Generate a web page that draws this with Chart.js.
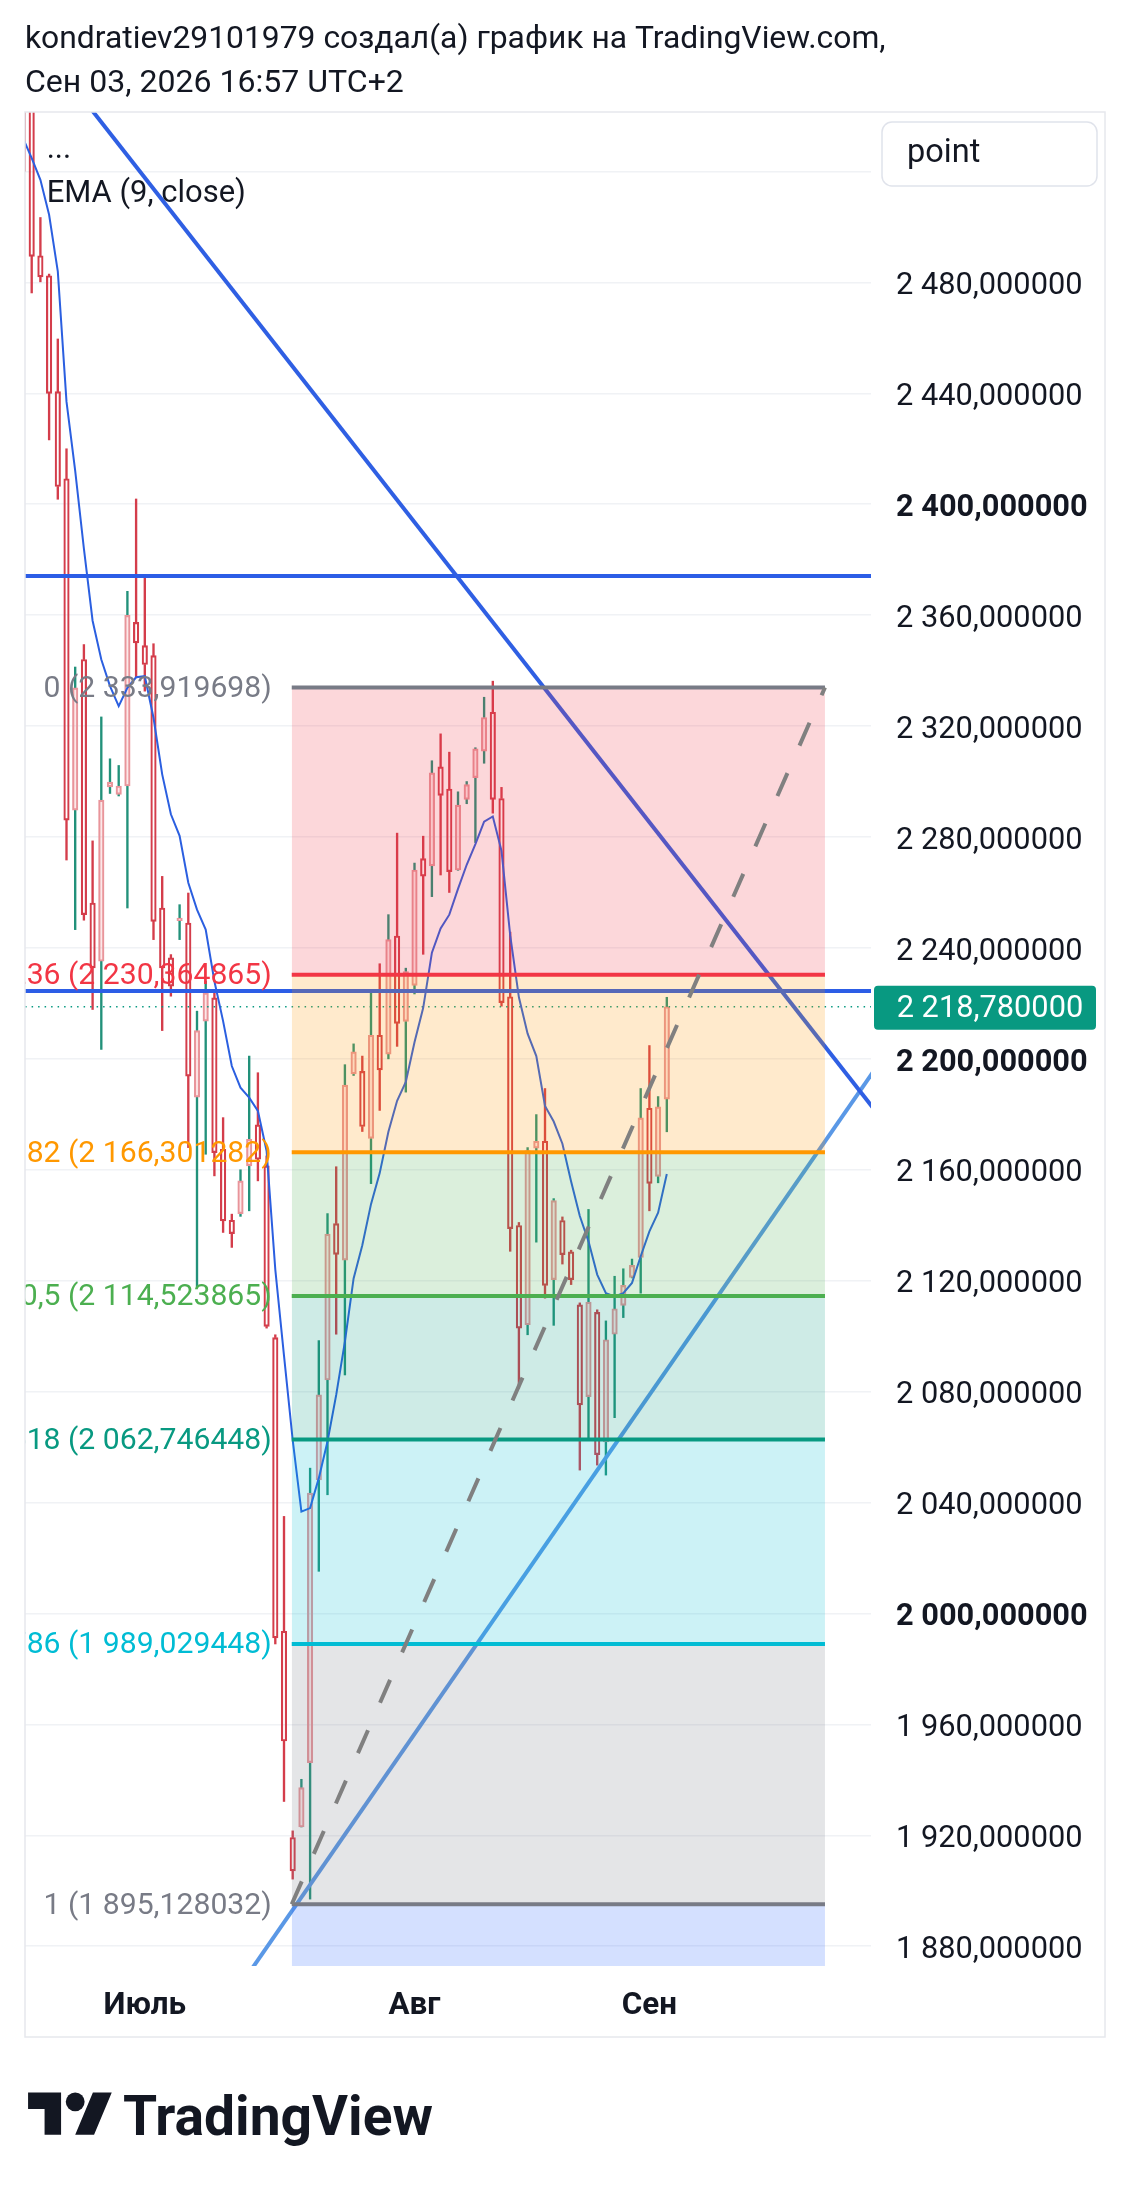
<!DOCTYPE html>
<html lang="ru">
<head>
<meta charset="utf-8">
<title>TradingView snapshot</title>
<script src="https://cdn.jsdelivr.net/npm/chart.js@4.4.1/dist/chart.umd.min.js"></script>
<style>
    html, body { margin: 0; padding: 0; background: #ffffff; }
    body { position: relative; width: 1131px; height: 2192px; overflow: hidden; color: #131722;
           font-family: Roboto, "Noto Sans", sans-serif; }
    #tvChart { position: absolute; left: 0; top: 0; }
    .caption { position: absolute; left: 25px; line-height: 1; white-space: nowrap; }
    #tvLogo { position: absolute; left: 28px; top: 2083px; }
    #tvWord { position: absolute; left: 123px; line-height: 1; white-space: nowrap; font-weight: 700; }
</style>
</head>
<body>
<canvas id="tvChart" width="1131" height="2192"></canvas>
<div id="title1" class="caption">kondratiev29101979 создал(а) график на TradingView.com,</div>
<div id="title2" class="caption">Сен 03, 2026 16:57 UTC+2</div>
<svg id="tvLogo" width="85" height="66" viewBox="0 0 36 28">
    <path fill="#131722" d="M14 22H7V11H0V4h14v18zM28 22h-8l7.5-18h8L28 22z"/>
    <circle fill="#131722" cx="20" cy="8" r="4"/>
</svg>
<div id="tvWord">TradingView</div>

<script>
// Daily candles (bar 0 is cut by the left edge)
const openPrices = [2560, 2545, 2489.6, 2482.4, 2440.6, 2409.2, 2289.7, 2344, 2256.2, 2235.2,
    2298.1, 2295.4, 2298.4, 2357.4, 2349, 2345.4, 2254.4, 2236.4, 2249.8, 2249,
    2186.2, 2213.6, 2222, 2167.4, 2141.8, 2144.2, 2161.4, 2176.2, 2161.4, 2099.5,
    1993.6, 1919.2, 1923, 1946.2, 2048.2, 2084.2, 2140.6, 2127.4, 2194.6, 2195.5,
    2171.3, 2208.5, 2201.7, 2244.3, 2213.5, 2226.5, 2272.2, 2269.6, 2305.3, 2297.3,
    2268.1, 2293.6, 2301.4, 2311, 2325, 2293.9, 2222.4, 2139.9, 2104.1, 2167.8,
    2170.3, 2120.4, 2141.7, 2130.4, 2111.3, 2078.2, 2108.6, 2061.9, 2100.7, 2111.1,
    2121.2, 2128.4, 2182.2, 2157.6, 2185.5];
const highPrices = [2570, 2552, 2503.4, 2483, 2459.6, 2420, 2341.3, 2349.4, 2278.6, 2323.3,
    2308.2, 2305.8, 2368.6, 2401.9, 2374.6, 2349.7, 2265.8, 2237.6, 2255.6, 2259.8,
    2217.2, 2228, 2224, 2178.8, 2144, 2160, 2201, 2195, 2165, 2100.5,
    2035, 1921.6, 1940.2, 2052.4, 2098.4, 2144.2, 2161.1, 2197.9, 2205.4, 2201,
    2224, 2234.3, 2252, 2281.4, 2232.7, 2270.6, 2280.3, 2307.5, 2317.2, 2310.6,
    2296.3, 2300, 2312.2, 2330.4, 2336.2, 2297.9, 2245.7, 2141, 2168, 2179.9,
    2189.3, 2149.6, 2143, 2131, 2112, 2145.7, 2109.5, 2105.5, 2121.6, 2124.3,
    2127.8, 2189.3, 2204.8, 2186.4, 2222.2];
const lowPrices = [2515, 2476.2, 2480.2, 2423.2, 2401.8, 2271.7, 2246.6, 2250, 2217.8, 2203.4,
    2295.7, 2294.8, 2254.4, 2337.4, 2332.6, 2243, 2210.2, 2222.6, 2243, 2168,
    2117.8, 2165.6, 2157.8, 2137.4, 2132, 2143.2, 2145.2, 2156, 2102.9, 1989,
    1932.2, 1904.2, 1923, 1897, 2015.2, 2042.8, 2100.7, 2086, 2194, 2173.8,
    2155, 2181.4, 2200, 2204.5, 2188, 2223.4, 2237.7, 2258.5, 2266.3, 2260,
    2268, 2292, 2278, 2306.6, 2288.6, 2219, 2130.6, 2081.2, 2100.5, 2133.9,
    2113.7, 2103.9, 2126, 2118.6, 2051.7, 2063.1, 2053.5, 2049.9, 2070.6, 2106.7,
    2121, 2115.5, 2145.2, 2155.3, 2173.7];
const closePrices = [2520, 2489.4, 2482, 2440, 2406.4, 2286.1, 2333.8, 2252, 2232.8, 2293.3,
    2299.8, 2298.4, 2359.9, 2350, 2342.2, 2249.6, 2232.8, 2226.2, 2250.8, 2193.8,
    2210.2, 2223.8, 2166.2, 2141.6, 2137, 2156, 2171, 2163.8, 2103.5, 1991.2,
    1954, 1907.2, 1937.2, 2043.4, 2078.8, 2136.8, 2129.5, 2190.5, 2202.5, 2175.6,
    2208.5, 2196, 2243, 2212.8, 2231.5, 2268.1, 2265.9, 2303.1, 2295, 2267.5,
    2291.5, 2298.9, 2311.8, 2323.1, 2293.6, 2220.3, 2138.8, 2102.9, 2166.9, 2170.3,
    2118.3, 2148.9, 2129.4, 2120.4, 2075.2, 2112.3, 2057.3, 2098.7, 2109.9, 2118.3,
    2125.5, 2178.7, 2155.1, 2182.7, 2218.78];
// EMA (9, close) as it is drawn on the snapshot
const emaValues = [2532, 2524.8, 2517, 2504.4, 2484, 2437, 2412, 2384, 2358, 2344,
    2334.4, 2327.2, 2333.8, 2337.6, 2338, 2323, 2302.6, 2288.2, 2280.4, 2263.5,
    2253.8, 2246.6, 2228, 2213.6, 2197.4, 2189.6, 2186, 2181.2, 2166.8, 2124,
    2093, 2062.5, 2036.7, 2038, 2048.8, 2062, 2078.8, 2098, 2120.8, 2132.8,
    2147.6, 2158.8, 2173.7, 2184.9, 2191.7, 2206, 2218.4, 2238.3, 2247, 2252,
    2261.3, 2270, 2277.4, 2285.5, 2287.4, 2275, 2244.5, 2222.2, 2209.1, 2201,
    2183, 2177.4, 2169.4, 2155.8, 2143.3, 2134.2, 2122.2, 2115.5, 2114.3, 2115.5,
    2119.2, 2128.8, 2137.8, 2144.5, 2158.5];
const lastPrice = 2218.78;

// Axis ticks
const xTickPositions = [14, 45, 72];
const xTickLabels = ['Июль', 'Авг', 'Сен'];
const yTickValues = [2520, 2480, 2440, 2400, 2360, 2320, 2280, 2240, 2200, 2160,
    2120, 2080, 2040, 2000, 1960, 1920, 1880];

// Fibonacci retracement drawing
const fibRatios = ['0', '0,236', '0,382', '0,5', '0,618', '0,786', '1', '1,618'];
const fibPrices = [2333.919698, 2230.364865, 2166.301282, 2114.523865, 2062.746448,
    1989.029448, 1895.128032, 1623.955];
const fibBars = [30.89, 92.18];

// Other drawings: [bar, price] anchors
const trendDown = [[7.9, 2542.2], [96.2, 2188.4]];
const trendUp = [[26.47, 1872.6], [96.2, 2188.4]];
const levelLines = [2374.1, 2224.5];

/**
 * Colours and fonts
 */
const FONT = 'Roboto, "Noto Sans", sans-serif';
const fibColors = ['#787b86', '#f23645', '#ff9800', '#4caf50', '#089981', '#00bcd4', '#787b86', '#2962ff'];
const tvColors = {
    text: '#131722',
    grid: '#f0f2f5',
    frame: '#e6e8ed',
    downBody: '#d43d4b',
    upBody: '#e8959b',
    upWick: '#22917a',
    ema: '#2b5fe0',
    trend: '#2f5fe3',
    trendLight: '#5a98e6',
    level: '#2c5de6',
    lastPrice: '#089981'
};

function fitFont(text, width, weight) {
    const c = document.createElement('canvas').getContext('2d');
    c.font = weight + ' 100px ' + FONT;
    return 100 * width / c.measureText(text).width;
}

function hexAlpha(hex, a) {
    const n = parseInt(hex.slice(1), 16);
    return 'rgba(' + (n >> 16) + ',' + ((n >> 8) & 255) + ',' + (n & 255) + ',' + a + ')';
}

// "2 480,000000" style
function fmtPrice(v) {
    const parts = v.toFixed(6).split('.');
    return parts[0].replace(/\B(?=(\d{3})+(?!\d))/g, ' ') + ',' + parts[1];
}

function extendLine(anchors, x0, x1) {
    const [[ax, ay], [bx, by]] = anchors;
    const k = (by - ay) / (bx - ax);
    return [{ x: x0, y: ay + (x0 - ax) * k }, { x: x1, y: ay + (x1 - ax) * k }];
}

const axisFontSize = fitFont('2 480,000000', 186.6, 'normal');
const fibFontSize = fitFont('0 (2 333,919698)', 228.3, 'normal');
const legendFontSize = fitFont('EMA (9, close)', 199.3, 'normal');
const monthFontSize = fitFont('Июль', 82.5, 'bold');
const unitFontSize = fitFont('point', 73.3, 'normal');

/**
 * Captions outside the chart frame
 */
function placeCaption(id, width, baseline, weight) {
    const el = document.getElementById(id);
    const size = fitFont(el.textContent, width, weight);
    el.style.fontSize = size + 'px';
    el.style.fontWeight = weight;
    el.style.top = (baseline - 0.84 * size) + 'px';
}
placeCaption('title1', 861, 48.5, 'normal');
placeCaption('title2', 379, 91.5, 'normal');
placeCaption('tvWord', 310, 2135, 'bold');

/**
 * Build datasets
 */
const barIndex = openPrices.map((_, i) => i);
const isUp = barIndex.map(i => closePrices[i] >= openPrices[i]);

function lineSet(points, color, width, order, extra) {
    return Object.assign({
        type: 'line',
        data: points,
        borderColor: color,
        borderWidth: width,
        pointRadius: 0,
        fill: false,
        tension: 0,
        clip: 0,
        order: order
    }, extra || {});
}

const datasets = [];

// fib levels; each fills the band up to the previous level
fibPrices.forEach(function(p, k) {
    datasets.push(lineSet(
        [{ x: fibBars[0], y: p }, { x: fibBars[1], y: p }],
        fibColors[k], 4, 1,
        { fill: k === 0 ? false : '-1', backgroundColor: hexAlpha(fibColors[k], 0.2) }
    ));
});

// fib trend line (dashed)
datasets.push(lineSet(
    [{ x: fibBars[0], y: fibPrices[6] }, { x: fibBars[1], y: fibPrices[0] }],
    '#808080', 4, 0, { borderDash: [25, 30] }
));

// trend lines and horizontal levels
datasets.push(lineSet(extendLine(trendDown, -2, 100), tvColors.trend, 4, 2));
datasets.push(lineSet(extendLine(trendUp, -2, 100), tvColors.trendLight, 4, 2));
levelLines.forEach(function(p) {
    datasets.push(lineSet([{ x: -2, y: p }, { x: 100, y: p }], tvColors.level, 4, 2));
});

// EMA
datasets.push(lineSet(barIndex.map(i => ({ x: i, y: emaValues[i] })), tvColors.ema, 2, 3));

// last price line
datasets.push(lineSet([{ x: -2, y: lastPrice }, { x: 100, y: lastPrice }],
    tvColors.lastPrice, 1.5, 4, { borderDash: [1.5, 5] }));

// candle bodies
datasets.push({
    type: 'bar',
    data: barIndex.map(i => ({ x: i, y: [openPrices[i], closePrices[i]] })),
    backgroundColor: barIndex.map(i => isUp[i] ? 'rgba(240,150,155,0.22)' : 'rgba(255,255,255,0)'),
    borderColor: barIndex.map(i => isUp[i] ? tvColors.upBody : tvColors.downBody),
    borderWidth: 1.5,
    borderSkipped: false,
    barThickness: 5.5,
    grouped: false,
    clip: 0,
    order: 5
});

// wicks, split so they stop at the body
const wickColors = barIndex.map(i => isUp[i] ? tvColors.upWick : tvColors.downBody);
datasets.push({
    type: 'bar',
    data: barIndex.map(i => ({ x: i, y: [Math.max(openPrices[i], closePrices[i]), highPrices[i]] })),
    backgroundColor: wickColors,
    borderWidth: 0,
    barThickness: 1.7,
    grouped: false,
    clip: 0,
    order: 6
});
datasets.push({
    type: 'bar',
    data: barIndex.map(i => ({ x: i, y: [lowPrices[i], Math.min(openPrices[i], closePrices[i])] })),
    backgroundColor: wickColors,
    borderWidth: 0,
    barThickness: 1.7,
    grouped: false,
    clip: 0,
    order: 6
});

/**
 * Frame, legend, fib labels, unit box and last price tag
 */
const tvOverlay = {
    id: 'tvOverlay',
    afterDatasetsDraw(chart) {
        const ctx = chart.ctx;
        const area = chart.chartArea;
        const xs = chart.scales.x;
        const ys = chart.scales.y;

        ctx.save();
        ctx.beginPath();
        ctx.rect(area.left, area.top, area.right - area.left, area.bottom - area.top);
        ctx.clip();

        // fib labels, right-aligned left of the drawing
        ctx.font = fibFontSize + 'px ' + FONT;
        ctx.textAlign = 'right';
        ctx.textBaseline = 'middle';
        const labelX = xs.getPixelForValue(fibBars[0]) - 20;
        fibPrices.forEach(function(p, k) {
            ctx.fillStyle = fibColors[k];
            ctx.fillText(fibRatios[k] + ' (' + fmtPrice(p) + ')', labelX, ys.getPixelForValue(p) + 2);
        });

        // legend
        ctx.fillStyle = tvColors.text;
        ctx.textAlign = 'left';
        ctx.textBaseline = 'alphabetic';
        ctx.font = legendFontSize + 'px ' + FONT;
        ctx.fillText('...', area.left + 21.7, 158);
        ctx.fillText('EMA (9, close)', area.left + 21.7, 201.7);
        ctx.restore();
    },
    afterDraw(chart) {
        const ctx = chart.ctx;
        const area = chart.chartArea;
        const ys = chart.scales.y;

        // frame
        ctx.save();
        ctx.strokeStyle = tvColors.frame;
        ctx.lineWidth = 1.5;
        ctx.strokeRect(25, 112, 1105 - 25, 2037 - 112);

        // unit box
        ctx.beginPath();
        ctx.roundRect(882, 122, 215, 64, 10);
        ctx.fillStyle = '#ffffff';
        ctx.fill();
        ctx.strokeStyle = '#e0e3eb';
        ctx.stroke();
        ctx.fillStyle = tvColors.text;
        ctx.font = unitFontSize + 'px ' + FONT;
        ctx.textBaseline = 'middle';
        ctx.fillText('point', 907, 154);

        // last price tag
        const py = ys.getPixelForValue(lastPrice);
        ctx.beginPath();
        ctx.roundRect(area.right + 3, py - 21, 222, 44, 4);
        ctx.fillStyle = tvColors.lastPrice;
        ctx.fill();
        ctx.fillStyle = '#ffffff';
        ctx.font = axisFontSize + 'px ' + FONT;
        ctx.fillText(fmtPrice(lastPrice), 896.7, py + 3);
        ctx.restore();
    }
};

Chart.defaults.font.family = FONT;

window.charts = window.charts || {};
window.charts.snapshot = new Chart(document.getElementById('tvChart'), {
    type: 'bar',
    data: { datasets: datasets },
    options: {
        responsive: false,
        animation: false,
        devicePixelRatio: 1,
        layout: { padding: { left: 25, top: 112, right: 26, bottom: 155 } },
        plugins: {
            legend: { display: false },
            tooltip: { enabled: false }
        },
        scales: {
            x: {
                type: 'linear',
                min: 0.23,
                max: 97.47,
                offset: false,
                grid: { display: false },
                border: { display: false },
                afterBuildTicks: function(scale) {
                    scale.ticks = xTickPositions.map(v => ({ value: v }));
                },
                afterFit: function(scale) { scale.height = 71; },
                ticks: {
                    autoSkip: false,
                    maxRotation: 0,
                    padding: 13,
                    color: tvColors.text,
                    font: { size: monthFontSize, weight: 'bold' },
                    callback: function(value) {
                        return xTickLabels[xTickPositions.indexOf(value)];
                    }
                }
            },
            y: {
                type: 'linear',
                position: 'right',
                min: 1872.87,
                max: 2541.45,
                grid: { color: tvColors.grid, lineWidth: 1.5, drawTicks: false },
                border: { display: false },
                afterBuildTicks: function(scale) {
                    scale.ticks = yTickValues.map(v => ({ value: v }));
                },
                afterFit: function(scale) { scale.width = 234; },
                ticks: {
                    autoSkip: false,
                    padding: 25,
                    labelOffset: 4,
                    crossAlign: 'near',
                    color: tvColors.text,
                    font: function(context) {
                        const v = context.tick ? context.tick.value : 0;
                        return { size: axisFontSize, weight: v % 200 === 0 ? 'bold' : 'normal' };
                    },
                    callback: function(value) {
                        // the 2 520 label sits under the unit box
                        return value > 2500 ? '' : fmtPrice(value);
                    }
                }
            }
        }
    },
    plugins: [tvOverlay]
});
</script>
</body>
</html>
